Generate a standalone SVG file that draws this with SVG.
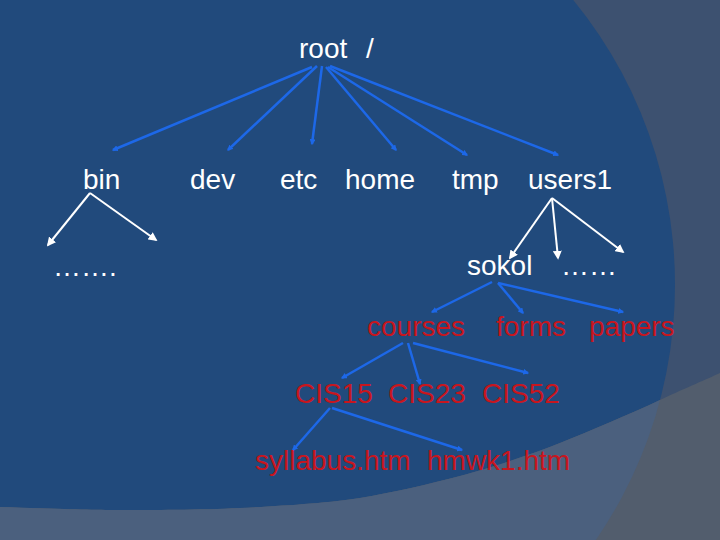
<svg xmlns="http://www.w3.org/2000/svg" width="720" height="540" viewBox="0 0 720 540">
<style>
.w{font-family:"Liberation Sans",Arial,sans-serif;font-size:28px;fill:#ffffff}
.r{font-family:"Liberation Sans",Arial,sans-serif;font-size:28px;fill:#c8161e}
.b{stroke:#1d68e8;stroke-width:2.5;fill:none;marker-end:url(#ab)}
.wl{stroke:#ffffff;stroke-width:2;fill:none;marker-end:url(#aw)}
</style>
<defs>
<clipPath id="cc"><circle cx="225" cy="285" r="450"/></clipPath>
<marker id="ab" viewBox="0 0 10 10" refX="8" refY="5" markerWidth="6" markerHeight="6" markerUnits="userSpaceOnUse" orient="auto"><path d="M0,0L10,5L0,10z" fill="#1d68e8"/></marker>
<marker id="aw" viewBox="0 0 10 10" refX="8" refY="5" markerWidth="9" markerHeight="9" markerUnits="userSpaceOnUse" orient="auto"><path d="M0,0L10,5L0,10z" fill="#ffffff"/></marker>
</defs>
<g id="background">
<rect width="720" height="540" fill="#3d5170"/>
<circle cx="225" cy="285" r="450" fill="#214a7c"/>
<path id="band" d="M0,507 C60,509 90,510 120,510 S200,510 240,508 S330,503 360,498 S430,484 460,476 S530,455 560,443 S630,414 660,400 S705,380 720,373 L720,540 L0,540Z" fill="#525d6d"/>
<path d="M0,507 C60,509 90,510 120,510 S200,510 240,508 S330,503 360,498 S430,484 460,476 S530,455 560,443 S630,414 660,400 S705,380 720,373 L720,540 L0,540Z" fill="#4b607e" clip-path="url(#cc)"/>
</g>
<g id="connectors">
<line class="b" x1="312" y1="67" x2="113" y2="150"/>
<line class="b" x1="317" y1="66" x2="228" y2="150"/>
<line class="b" x1="322" y1="66" x2="312" y2="144"/>
<line class="b" x1="326" y1="67" x2="396" y2="150"/>
<line class="b" x1="328" y1="67" x2="467" y2="155"/>
<line class="b" x1="330" y1="66" x2="558" y2="155"/>
<line class="wl" x1="90" y1="193" x2="48" y2="245"/>
<line class="wl" x1="90" y1="193" x2="156" y2="240"/>
<line class="wl" x1="552" y1="198" x2="510" y2="258"/>
<line class="wl" x1="552" y1="198" x2="558" y2="258"/>
<line class="wl" x1="552" y1="198" x2="623" y2="252"/>
<line class="b" x1="492" y1="282" x2="432" y2="312"/>
<line class="b" x1="498" y1="283" x2="523" y2="313"/>
<line class="b" x1="498" y1="283" x2="623" y2="312"/>
<line class="b" x1="403" y1="343" x2="342" y2="378"/>
<line class="b" x1="408" y1="343" x2="420" y2="384"/>
<line class="b" x1="413" y1="343" x2="528" y2="373"/>
<line class="b" x1="330" y1="408" x2="293" y2="450"/>
<line class="b" x1="332" y1="408" x2="462" y2="450"/>
</g>
<g id="root"><text class="w" x="299" y="58">root</text><text class="w" x="366" y="58">/</text></g>
<g id="bin"><text class="w" x="83" y="189">bin</text></g>
<g id="dev"><text class="w" x="190" y="189">dev</text></g>
<g id="etc"><text class="w" x="280" y="189">etc</text></g>
<g id="home"><text class="w" x="345" y="189">home</text></g>
<g id="tmp"><text class="w" x="452" y="189">tmp</text></g>
<g id="users1"><text class="w" x="528" y="189">users1</text></g>
<g id="bin-more"><text class="w" x="53" y="276">…….</text></g>
<g id="sokol"><text class="w" x="467" y="275">sokol</text></g>
<g id="users-more"><text class="w" x="561" y="275">……</text></g>
<g id="courses"><text class="r" x="367" y="336">courses</text></g>
<g id="forms"><text class="r" x="496" y="336">forms</text></g>
<g id="papers"><text class="r" x="589" y="336">papers</text></g>
<g id="CIS15"><text class="r" x="295" y="403">CIS15</text></g>
<g id="CIS23"><text class="r" x="388" y="403">CIS23</text></g>
<g id="CIS52"><text class="r" x="482" y="403">CIS52</text></g>
<g id="syllabus"><text class="r" x="255" y="470">syllabus.htm</text></g>
<g id="hmwk1"><text class="r" x="427" y="470">hmwk1.htm</text></g>
</svg>
